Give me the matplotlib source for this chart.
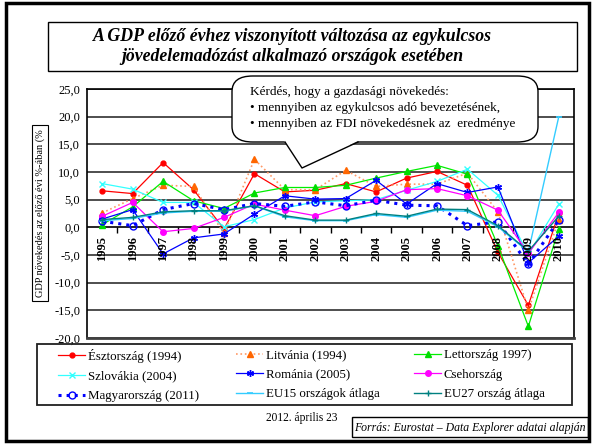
import numpy as np
import matplotlib
matplotlib.use("Agg")
import matplotlib.pyplot as plt
from matplotlib.patches import Rectangle, FancyBboxPatch, Polygon
from matplotlib.lines import Line2D

plt.rcParams['font.family'] = ['Liberation Serif', 'DejaVu Serif']

# ---------------- data ----------------
years = [1995, 1996, 1997, 1998, 1999, 2000, 2001, 2002, 2003, 2004,
         2005, 2006, 2007, 2008, 2009, 2010]
estonia   = [6.6, 6.1, 11.7, 6.8, -0.3, 9.7, 6.4, 6.7, 7.9, 6.4, 8.9, 10.1, 7.6, -4.5, -14.1, 2.5]
lithuania = [2.6, 5.2, 7.6, 7.4, -1.1, 12.3, 6.8, 6.8, 10.3, 7.4, 7.8, 7.8, 9.8, 2.8, -15.0, 1.4]
latvia    = [0.5, 3.7, 8.3, 4.8, 3.4, 6.2, 7.2, 7.2, 7.6, 8.9, 10.1, 11.2, 9.6, -3.3, -17.9, -0.3]
slovakia  = [7.9, 6.9, 4.5, 4.5, 0.1, 1.4, 3.5, 4.6, 4.8, 5.0, 6.7, 8.3, 10.5, 5.8, -4.9, 4.2]
romania   = [1.5, 3.2, -4.8, -1.9, -1.2, 2.4, 5.7, 5.1, 5.2, 8.5, 4.2, 7.9, 6.3, 7.3, -6.4, -1.6]
czech     = [2.0, 4.5, -0.8, -0.2, 1.8, 4.2, 3.1, 2.1, 3.8, 4.7, 6.8, 7.0, 5.7, 3.1, -4.7, 2.7]
hungary   = [1.1, 0.3, 3.2, 4.3, 3.2, 4.3, 3.8, 4.6, 3.9, 4.9, 4.0, 3.9, 0.3, 1.0, -6.7, 1.3]
eu15      = [1.2, 1.6, 2.6, 2.9, 2.9, 3.9, 1.9, 1.2, 1.2, 2.3, 1.8, 3.1, 2.9, 0.1, -4.4, 20.0]
eu27      = [1.4, 1.8, 2.8, 3.0, 3.0, 3.9, 2.1, 1.3, 1.3, 2.5, 2.0, 3.3, 3.2, 0.3, -4.3, 2.0]

labels = ["Észtország (1994)", "Litvánia (1994)", "Lettország 1997)",
          "Szlovákia (2004)", "Románia (2005)", "Csehország",
          "Magyarország (2011)", "EU15 országok átlaga", "EU27 ország átlaga"]

title_text = ("A GDP előző évhez viszonyított változása az egykulcsos\n"
              "jövedelemadózást alkalmazó országok esetében")
callout_lines = ["Kérdés, hogy a gazdasági növekedés:",
                 "• mennyiben az egykulcsos adó bevezetésének,",
                 "• mennyiben az FDI növekedésnek az  eredménye"]
ylabel_text = "GDP növekedés az előző évi %-ában (%"
date_text = "2012. április 23"
source_text = "Forrás: Eurostat – Data Explorer adatai alapján"

# ---------------- figure ----------------
W, H = 592, 444
fig = plt.figure(figsize=(W / 100, H / 100), dpi=100)


def fx(px):
    return px / W


def fy(py):
    return 1 - py / H


ax = fig.add_axes([fx(87), fy(338), (574 - 87) / W, (338 - 89) / H])
xs = np.arange(len(years))

styles = [
    dict(color='#FF0000', ls='-', lw=0.9, marker='o', ms=3.5, mfc='#FF0000', mec='#FF0000'),
    dict(color='#FF9966', ls=':', lw=1.2, marker='^', ms=5, mfc='#FF6600', mec='#FF6600'),
    dict(color='#00EE00', ls='-', lw=0.9, marker='^', ms=4, mfc='#00DD00', mec='#00DD00'),
    dict(color='#33FFFF', ls='-', lw=0.9, marker='x', ms=4, mfc='#33FFFF', mec='#33FFFF', mew=1.0),
    dict(color='#0000FF', ls='-', lw=0.9, marker=(6, 2, 0), ms=5, mfc='#0000FF', mec='#0000FF', mew=1.0),
    dict(color='#FF00FF', ls='-', lw=0.9, marker='o', ms=4, mfc='#FF00FF', mec='#FF00FF'),
    dict(color='#0000FF', ls=':', lw=2.2, marker='o', ms=5, mfc='none', mec='#0000FF', mew=1.0),
    dict(color='#33CCFF', ls='-', lw=1.0, marker='_', ms=5, mfc='#33CCFF', mec='#33CCFF', mew=1.2),
    dict(color='#008080', ls='-', lw=1.0, marker='+', ms=5, mfc='#008080', mec='#008080', mew=1.0),
]
series = [estonia, lithuania, latvia, slovakia, romania, czech, hungary, eu15, eu27]

handles = []
for vals, lab, st in zip(series, labels, styles):
    h, = ax.plot(xs, vals, label=lab, zorder=3, **st)
    handles.append(h)

ax.set_xlim(-0.5, len(years) - 0.5)
ax.set_ylim(-20, 25)
yt = np.arange(-20, 26, 5)
ax.set_yticks(yt)
ax.set_yticklabels([f"{v:.1f}".replace('.', ',') for v in yt], fontsize=9)
ax.tick_params(axis='y', length=0, pad=5)
ax.set_xticks([])

for v in yt:
    if v == 0:
        continue
    ax.axhline(v, color='#404040', lw=1.3, zorder=1)
ax.axhline(0, color='black', lw=1.2, zorder=2)
ax.vlines(xs[:-1] + 0.5, -1.0, 0, color='black', lw=1.0, zorder=2)

for sp in ['left', 'right', 'top']:
    ax.spines[sp].set_color('black')
    ax.spines[sp].set_linewidth(1.2)
ax.spines['bottom'].set_color('#404040')
ax.spines['bottom'].set_linewidth(2.0)

for i, yr in enumerate(years):
    ax.text(xs[i], -1.5, str(yr), rotation=90, ha='center', va='top',
            fontsize=9, fontweight='bold', zorder=4)

# y label in box
fig.text(fx(40), fy(213), ylabel_text, rotation=90, ha='center', va='center',
         fontsize=7.5,
         bbox=dict(boxstyle='square,pad=0.35', fc='white', ec='black', lw=0.8))

# title box
fig.patches.append(Rectangle((fx(48), fy(71)), (577 - 48) / W, (71 - 22) / H,
                             transform=fig.transFigure, fill=False,
                             ec='black', lw=1.0))
fig.text(fx(292), fy(46.5), title_text, ha='center', va='center',
         fontsize=12.8, fontweight='bold', fontstyle='italic', linespacing=1.3)

# callout bubble
bx0, by0, bx1, by1 = 232, 76, 538, 142
bubble = FancyBboxPatch((fx(bx0), fy(by1)), (bx1 - bx0) / W, (by1 - by0) / H,
                        boxstyle='round,pad=0,rounding_size=0.035',
                        transform=fig.transFigure, fc='white', ec='black',
                        lw=1.0, zorder=5)
fig.patches.append(bubble)
tail_fill = Polygon([(fx(284), fy(141)), (fx(302), fy(168)), (fx(358), fy(141))],
                    closed=True, transform=fig.transFigure, fc='white',
                    ec='none', zorder=6)
fig.patches.append(tail_fill)
fig.lines.append(Line2D([fx(285), fx(302), fx(358)], [fy(142), fy(168), fy(142)],
                        transform=fig.transFigure, color='black', lw=1.0,
                        zorder=7))
for k, line in enumerate(callout_lines):
    fig.text(fx(250), fy(91.5 + 16 * k), line, ha='left', va='center',
             fontsize=9.5, zorder=8)

# legend frame and three legend columns
fig.patches.append(Rectangle((fx(37), fy(405)), (572 - 37) / W, (405 - 344) / H,
                             transform=fig.transFigure, fill=False,
                             ec='#202020', lw=1.3))
cols = [[0, 3, 6], [1, 4, 7], [2, 5, 8]]
col_x = [58, 236, 414]
for cx, idx in zip(col_x, cols):
    leg = fig.legend([handles[i] for i in idx], [labels[i] for i in idx],
                     loc='upper left', bbox_to_anchor=(fx(cx), fy(349)),
                     frameon=False, fontsize=9.3, handlelength=2.1,
                     handletextpad=0.2, labelspacing=0.58, borderpad=0,
                     borderaxespad=0)

# date and source
fig.text(fx(302), fy(418), date_text, ha='center', va='center', fontsize=8.3)
fig.patches.append(Rectangle((fx(352), fy(437)), (588 - 352) / W, (437 - 417) / H,
                             transform=fig.transFigure, fill=False,
                             ec='black', lw=1.0))
fig.text(fx(470), fy(427.5), source_text, ha='center', va='center',
         fontsize=8.5, fontstyle='italic')

# outer frame
fig.patches.append(Rectangle((fx(6), fy(441)), (589 - 6) / W, (441 - 3) / H,
                             transform=fig.transFigure, fill=False,
                             ec='black', lw=2.5))

fig.savefig('out.png', dpi=100)
